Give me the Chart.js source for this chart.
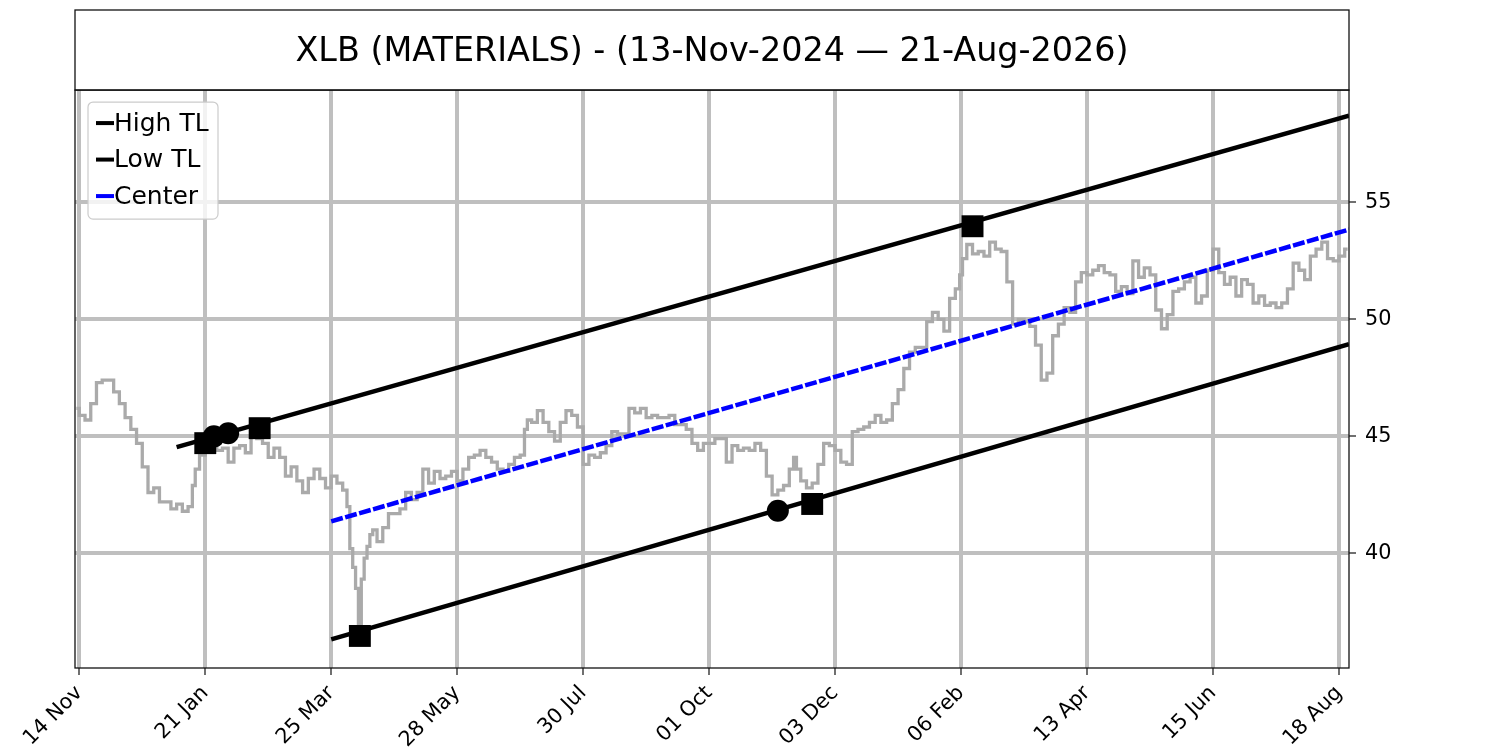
<!DOCTYPE html>
<html>
<head>
<meta charset="utf-8">
<script src="https://cdn.jsdelivr.net/npm/chart.js@4.4.1/dist/chart.umd.min.js"></script>
<style>
  html, body { margin: 0; padding: 0; background: #fff; }
  canvas { display: block; }
</style>
</head>
<body>
<canvas id="xlbChart" width="1500" height="750"></canvas>
<script>
// bar number (trading days from 13-Nov-2024) and price
const barIndex = [
  0, 2, 4, 6, 8, 10, 12, 14, 16, 18, 20, 22, 24, 26, 28, 30, 32, 34, 36, 38,
  40, 41, 42, 44, 46, 48, 50, 52, 54, 56, 58, 60, 62, 64, 66, 68, 70, 72, 74, 76,
  78, 80, 82, 84, 86, 88, 90, 92, 94, 95, 96, 97, 98, 99, 100, 101, 102, 103, 104, 106,
  108, 110, 112, 114, 116, 118, 120, 122, 124, 126, 128, 130, 132, 134, 136, 138, 140, 142, 144, 146,
  148, 150, 152, 154, 156, 157, 158, 160, 162, 164, 166, 168, 170, 172, 174, 176, 178, 180, 182, 184,
  186, 188, 190, 192, 194, 196, 198, 200, 202, 204, 206, 208, 210, 212, 214, 216, 218, 220, 222, 224,
  226, 228, 230, 232, 234, 236, 238, 240, 242, 244, 246, 248, 250, 251, 252, 254, 256, 258, 260, 262,
  264, 266, 268, 270, 272, 274, 276, 278, 280, 282, 284, 286, 288, 290, 292, 294, 296, 298, 300, 302,
  304, 306, 308, 309, 310, 312, 314, 316, 318, 320, 322, 324, 326, 328, 330, 332, 334, 336, 338, 340,
  342, 344, 346, 348, 350, 352, 354, 356, 358, 360, 362, 364, 366, 368, 370, 372, 374, 376, 378, 380,
  382, 384, 386, 388, 390, 392, 394, 396, 398, 400, 402, 404, 406, 408, 410, 412, 414, 416, 418, 420,
  422, 424, 426, 428, 430, 432, 434, 436, 438, 440, 442, 444
];
const closeValues = [
  46.2, 45.9, 45.7, 46.4, 47.3, 47.4, 47.4, 46.9, 46.4, 45.8, 45.3, 44.7, 43.7, 42.6, 42.8, 42.2, 42.2, 41.9, 42.1, 41.8,
  42.0, 42.9, 43.6, 44.2, 44.5, 44.6, 44.4, 44.5, 43.9, 44.5, 44.6, 44.3, 45.0, 44.9, 44.7, 44.1, 44.5, 44.1, 43.3, 43.7,
  43.1, 42.6, 43.2, 43.6, 43.2, 42.8, 43.3, 43.0, 42.7, 42.0, 40.2, 39.4, 38.5, 36.8, 38.9, 39.8, 40.3, 40.8, 41.0, 40.5,
  41.1, 41.7, 41.7, 41.9, 42.6, 42.3, 42.6, 43.6, 43.0, 43.5, 43.2, 43.3, 43.5, 43.1, 43.6, 44.1, 44.2, 44.4, 44.1, 43.9,
  43.6, 43.5, 43.8, 44.1, 44.2, 45.3, 45.7, 45.6, 46.1, 45.6, 45.2, 44.8, 45.6, 46.1, 45.9, 45.4, 43.8, 44.2, 44.1, 44.3,
  44.6, 45.2, 45.1, 45.1, 46.2, 46.0, 46.2, 45.8, 45.9, 45.8, 45.8, 45.9, 45.5, 45.5, 45.3, 44.7, 44.4, 44.7, 44.7, 44.9,
  44.9, 43.9, 44.6, 44.4, 44.5, 44.4, 44.7, 44.4, 43.3, 42.5, 42.7, 42.9, 43.6, 44.1, 43.6, 43.1, 42.8, 43.0, 43.8, 44.7,
  44.6, 44.4, 43.9, 43.8, 45.2, 45.3, 45.4, 45.6, 45.9, 45.6, 45.7, 46.4, 47.0, 47.9, 48.6, 48.8, 48.8, 49.9, 50.3, 50.0,
  49.5, 50.9, 51.3, 51.9, 52.6, 53.2, 52.8, 52.9, 52.7, 53.3, 53.0, 52.9, 51.6, 49.8, 50.0, 49.9, 49.7, 48.9, 47.4, 47.7,
  49.3, 49.8, 50.5, 50.3, 51.6, 52.0, 51.9, 52.1, 52.3, 52.0, 51.9, 51.2, 51.4, 51.1, 52.5, 51.8, 52.2, 51.9, 50.4, 49.6,
  50.2, 51.2, 51.3, 51.6, 51.8, 50.7, 51.0, 52.1, 53.0, 52.0, 51.5, 51.8, 51.0, 51.7, 51.5, 50.7, 51.0, 50.6, 50.7, 50.5,
  50.7, 51.3, 52.4, 52.1, 51.7, 52.7, 53.0, 53.3, 52.6, 52.5, 52.7, 53.0
];

// trend lines (start bar / end bar and their values)
const highTLx = [35, 444.5];
const highTLy = [44.54, 58.71];
const lowTLx = [89, 444.5];
const lowTLy = [36.32, 48.94];
const centerX = [89, 444.5];
const centerY = [41.37, 53.84];

// pivots
const squareX = [45, 64, 313, 99, 257];
const squareY = [44.71, 45.35, 53.98, 36.47, 42.11];
const circleX = [48, 53, 245];
const circleY = [45.0, 45.13, 41.82];

const tickIndex = [1, 45, 89, 133, 177, 221, 265, 309, 353, 397, 441];
const tickLabels = ['14 Nov', '21 Jan', '25 Mar', '28 May', '30 Jul', '01 Oct', '03 Dec', '06 Feb', '13 Apr', '15 Jun', '18 Aug'];
const yTicks = [40, 45, 50, 55];

const toPoints = (xs, ys) => xs.map((x, k) => ({ x: x, y: ys[k] }));

const FONT = 'DejaVu Sans';

// axes frame, title box and the legend box on top
const framePlugin = {
  id: 'frame',
  afterDraw(chart) {
    const ctx = chart.ctx;
    const a = chart.chartArea;
    ctx.save();
    ctx.strokeStyle = '#111';
    ctx.lineWidth = 1.3;
    ctx.strokeRect(a.left, a.top, a.right - a.left, a.bottom - a.top);
    ctx.strokeRect(a.left, 10, a.right - a.left, a.top - 10);

    const items = chart.data.datasets.filter(d => d.inLegend);
    const bx = a.left + 13, by = a.top + 12, bw = 130, bh = 117;
    ctx.beginPath();
    ctx.roundRect(bx, by, bw, bh, 5);
    ctx.fillStyle = 'rgba(255,255,255,0.8)';
    ctx.fill();
    ctx.strokeStyle = '#cccccc';
    ctx.lineWidth = 1.2;
    ctx.stroke();
    ctx.font = '25px "' + FONT + '"';
    ctx.textBaseline = 'middle';
    items.forEach((d, k) => {
      const cy = by + 21 + k * 36.5;
      ctx.fillStyle = d.borderColor;
      ctx.fillRect(bx + 8, cy - 2, 18, 4);
      ctx.fillStyle = '#000';
      ctx.fillText(d.label, bx + 26, cy + 1);
    });
    ctx.restore();
  }
};

const gridOpts = { color: '#bfbfbf', lineWidth: 4, tickColor: '#222', tickWidth: 1.3, tickLength: 7 };

new Chart(document.getElementById('xlbChart'), {
  type: 'line',
  data: {
    datasets: [
      {
        type: 'scatter', label: 'pivot high/low', data: toPoints(squareX, squareY),
        pointStyle: 'rect', pointRadius: 15.5, backgroundColor: '#000', borderWidth: 0, order: 0
      },
      {
        type: 'scatter', label: 'pivot candidates', data: toPoints(circleX, circleY),
        pointStyle: 'circle', pointRadius: 11, backgroundColor: '#000', borderWidth: 0, order: 0
      },
      {
        label: 'High TL', inLegend: true, data: toPoints(highTLx, highTLy),
        borderColor: '#000000', borderWidth: 4.5, pointRadius: 0, order: 1
      },
      {
        label: 'Low TL', inLegend: true, data: toPoints(lowTLx, lowTLy),
        borderColor: '#000000', borderWidth: 4.5, pointRadius: 0, order: 1
      },
      {
        label: 'Center', inLegend: true, data: toPoints(centerX, centerY),
        borderColor: '#0000ff', borderWidth: 4.5, borderDash: [12, 2.5], pointRadius: 0, order: 1
      },
      {
        label: 'XLB', data: toPoints(barIndex, closeValues),
        borderColor: '#aaaaaa', borderWidth: 3.3, pointRadius: 0, stepped: 'middle', order: 2
      }
    ]
  },
  options: {
    responsive: false,
    animation: false,
    devicePixelRatio: 1,
    events: [],
    layout: { padding: { left: 75, right: 91, top: 10, bottom: 0 } },
    plugins: {
      legend: { display: false },
      tooltip: { enabled: false },
      title: {
        display: true,
        text: 'XLB (MATERIALS) - (13-Nov-2024 — 21-Aug-2026)',
        fullSize: false,
        color: '#000',
        font: { family: FONT, size: 33.4, weight: 'normal', lineHeight: 1.2 },
        padding: { top: 22, bottom: 18 }
      }
    },
    scales: {
      x: {
        type: 'linear',
        min: -0.5,
        max: 444.5,
        afterBuildTicks: s => { s.ticks = tickIndex.map(v => ({ value: v })); },
        afterFit: s => { s.height = 82; },
        ticks: {
          autoSkip: false, minRotation: 45, maxRotation: 45, color: '#000', padding: 6,
          font: { family: FONT, size: 20.8 },
          callback: v => tickLabels[tickIndex.indexOf(v)]
        },
        grid: gridOpts,
        border: { display: false }
      },
      y: {
        position: 'right',
        min: 35.1,
        max: 59.8,
        afterBuildTicks: s => { s.ticks = yTicks.map(v => ({ value: v })); },
        afterFit: s => { s.width = 60; },
        ticks: {
          color: '#000', padding: 9,
          font: { family: FONT, size: 20.8 },
          callback: v => String(v)
        },
        grid: gridOpts,
        border: { display: false }
      }
    }
  },
  plugins: [framePlugin]
});
</script>
</body>
</html>
